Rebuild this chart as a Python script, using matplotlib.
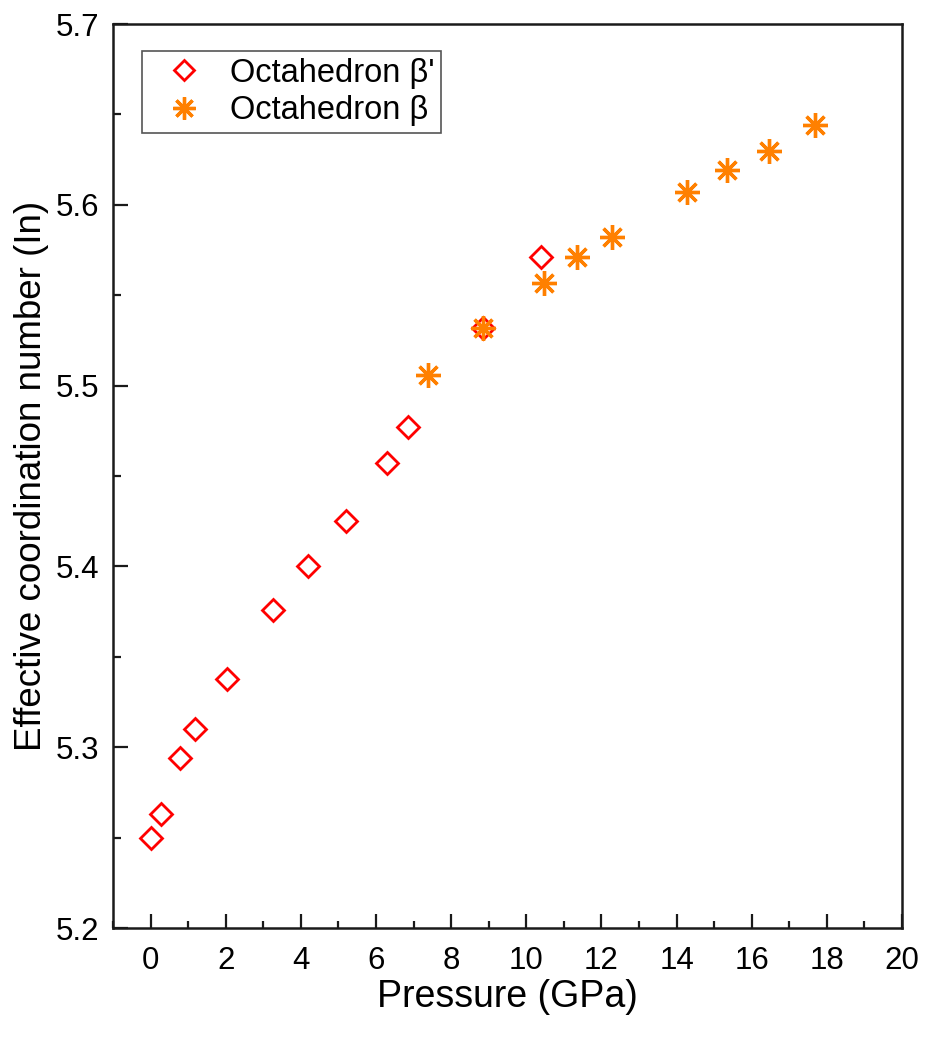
"""Effective coordination number of the In octahedra vs. pressure."""
import matplotlib
matplotlib.use('Agg')
import matplotlib.pyplot as plt
from matplotlib.ticker import MultipleLocator

plt.rcParams['font.family'] = ['Liberation Sans', 'DejaVu Sans']

# ── data ────────────────────────────────────────────────────────────
# beta' phase octahedron
p_beta_prime = [0.0, 0.29, 0.77, 1.17, 2.03, 3.25, 4.18, 5.19, 6.29, 6.85, 8.85, 10.39]
ecn_beta_prime = [5.250, 5.263, 5.294, 5.310, 5.338, 5.376, 5.400, 5.425,
                  5.457, 5.477, 5.532, 5.571]

# beta phase octahedron
p_beta = [7.39, 8.85, 10.48, 11.35, 12.29, 14.27, 15.35, 16.47, 17.68]
ecn_beta = [5.506, 5.532, 5.557, 5.571, 5.582, 5.607, 5.619, 5.630, 5.644]

RED = '#FF0000'
ORANGE = '#FF8000'

fig = plt.figure(figsize=(9.25, 10.39), dpi=100, facecolor='white')
ax = fig.add_axes([0.1222, 0.1068, 0.8529, 0.8701])

ax.plot(p_beta_prime, ecn_beta_prime, ls='none', marker='D', ms=11,
        mfc='none', mec=RED, mew=2.0, label="Octahedron β'", zorder=3)
ax.plot(p_beta, ecn_beta, ls='none', marker=(8, 2, 0), ms=18,
        mec=ORANGE, mfc=ORANGE, mew=2.4, label='Octahedron β', zorder=4)

ax.set_xlim(-1, 20)
ax.set_ylim(5.2, 5.7)
ax.xaxis.set_major_locator(MultipleLocator(2))
ax.xaxis.set_minor_locator(MultipleLocator(1))
ax.yaxis.set_major_locator(MultipleLocator(0.1))
ax.yaxis.set_minor_locator(MultipleLocator(0.05))
ax.set_xticks(range(0, 21, 2))

ax.tick_params(which='both', direction='in', top=False, right=False,
               width=1.6, color='#1a1a1a', labelsize=22.5)
ax.tick_params(axis='x', which='major', length=10, pad=13)
ax.tick_params(axis='x', which='minor', length=5)
ax.tick_params(axis='y', which='major', length=11, pad=10)
ax.tick_params(axis='y', which='minor', length=6)
for spine in ax.spines.values():
    spine.set_linewidth(1.8)
    spine.set_color('#1a1a1a')

ax.set_xlabel('Pressure (GPa)', fontsize=27, labelpad=2)
ax.set_ylabel('Effective coordination number (In)', fontsize=26.5, labelpad=5)

leg = ax.legend(loc='upper left', bbox_to_anchor=(0.0364, 0.970),
                borderaxespad=0, fontsize=23.5, markerscale=0.9,
                handlelength=2.16, handletextpad=0.35, borderpad=0.2,
                labelspacing=0.2, fancybox=False, shadow=False,
                framealpha=1)
leg.get_frame().set_edgecolor('#555555')
leg.get_frame().set_linewidth(1.2)

fig.savefig('out.png', dpi=100, facecolor=fig.get_facecolor())
